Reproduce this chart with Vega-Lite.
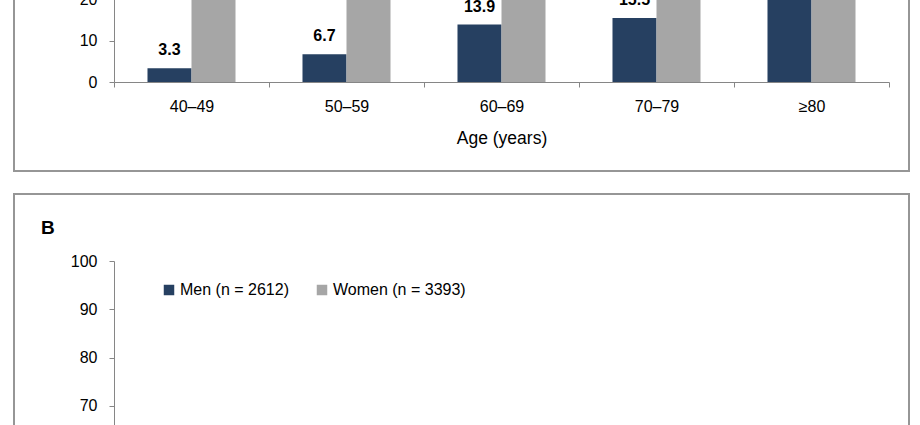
{
  "$schema": "https://vega.github.io/schema/vega-lite/v6.json",
  "background": "white",
  "padding": {"left": 13, "top": -400, "right": 0, "bottom": -410},
  "spacing": 21,
  "config": {
    "font": "Liberation Sans",
    "view": {"stroke": "#969696", "strokeWidth": 2, "fill": "white"},
    "axis": {
      "domainColor": "#868686",
      "tickColor": "#868686",
      "tickSize": 5,
      "labelFontSize": 16,
      "labelColor": "#000000",
      "titleFontSize": 17.5,
      "titleFontWeight": "normal",
      "titleColor": "#000000",
      "grid": false
    },
    "legend": {
      "orient": "none",
      "legendX": 147,
      "legendY": 88,
      "direction": "horizontal",
      "symbolType": "square",
      "symbolSize": 110,
      "symbolStrokeWidth": 0,
      "labelFontSize": 16,
      "labelColor": "#000000",
      "labelOffset": 3,
      "columnPadding": 25,
      "title": null
    }
  },
  "resolve": {"legend": {"color": "independent"}},
  "datasets": {
    "a": [
      {"age": "40–49", "sex": "Men (n = 2612)", "value": 3.3},
      {"age": "40–49", "sex": "Women (n = 3393)", "value": 22.5},
      {"age": "50–59", "sex": "Men (n = 2612)", "value": 6.7},
      {"age": "50–59", "sex": "Women (n = 3393)", "value": 30.3},
      {"age": "60–69", "sex": "Men (n = 2612)", "value": 13.9},
      {"age": "60–69", "sex": "Women (n = 3393)", "value": 41.0},
      {"age": "70–79", "sex": "Men (n = 2612)", "value": 15.5},
      {"age": "70–79", "sex": "Women (n = 3393)", "value": 52.4},
      {"age": "≥80", "sex": "Men (n = 2612)", "value": 24.9},
      {"age": "≥80", "sex": "Women (n = 3393)", "value": 62.1}
    ],
    "b": [
      {"age": "40–49", "sex": "Men (n = 2612)", "value": 8.1},
      {"age": "40–49", "sex": "Women (n = 3393)", "value": 15.4},
      {"age": "50–59", "sex": "Men (n = 2612)", "value": 12.5},
      {"age": "50–59", "sex": "Women (n = 3393)", "value": 27.8},
      {"age": "60–69", "sex": "Men (n = 2612)", "value": 20.3},
      {"age": "60–69", "sex": "Women (n = 3393)", "value": 39.6},
      {"age": "70–79", "sex": "Men (n = 2612)", "value": 28.7},
      {"age": "70–79", "sex": "Women (n = 3393)", "value": 48.1},
      {"age": "≥80", "sex": "Men (n = 2612)", "value": 35.2},
      {"age": "≥80", "sex": "Women (n = 3393)", "value": 55.3}
    ]
  },
  "vconcat": [
    {
      "width": 895,
      "height": 570,
      "title": {"text": "A", "anchor": "start", "frame": "group", "fontSize": 19, "fontWeight": "bold", "color": "#000000", "baseline": "alphabetic", "offset": 0, "dx": 27, "dy": 59},
      "data": {"name": "a"},
      "encoding": {
        "x": {
          "field": "age", "type": "nominal", "sort": ["40–49", "50–59", "60–69", "70–79", "≥80"],
          "scale": {"range": [100, 875], "paddingInner": 0, "paddingOuter": 0},
          "axis": {"title": "Age (years)", "offset": -89, "tickBand": "extent", "labelAngle": 0, "labelPadding": 11, "titlePadding": 15}
        },
        "xOffset": {"field": "sex", "type": "nominal", "sort": ["Men (n = 2612)", "Women (n = 3393)"], "scale": {"paddingInner": 0, "paddingOuter": 0.761}},
        "y": {
          "field": "value", "type": "quantitative",
          "scale": {"domain": [0, 100], "range": [481, 68], "nice": false, "zero": true},
          "axis": {"title": null, "offset": -100, "values": [0, 10, 20, 30, 40, 50, 60, 70, 80, 90, 100], "labelPadding": 12}
        },
        "color": {"field": "sex", "type": "nominal", "sort": ["Men (n = 2612)", "Women (n = 3393)"], "scale": {"range": ["#264061", "#A6A6A6"]}}
      },
      "layer": [
        {"mark": {"type": "bar", "clip": true}},
        {"mark": {"type": "text", "clip": true, "fontWeight": "bold", "fontSize": 16, "color": "#000000", "baseline": "alphabetic", "dy": -13}, "encoding": {"text": {"field": "value", "type": "quantitative", "format": ".1f"}, "color": {"value": "#000000"}}}
      ]
    },
    {
      "width": 895,
      "height": 640,
      "title": {"text": "B", "anchor": "start", "frame": "group", "fontSize": 19, "fontWeight": "bold", "color": "#000000", "baseline": "alphabetic", "offset": 0, "dx": 27, "dy": 59},
      "data": {"name": "b"},
      "encoding": {
        "x": {
          "field": "age", "type": "nominal", "sort": ["40–49", "50–59", "60–69", "70–79", "≥80"],
          "scale": {"range": [100, 875], "paddingInner": 0, "paddingOuter": 0},
          "axis": {"title": "Age (years)", "offset": -89, "tickBand": "extent", "labelAngle": 0, "labelPadding": 11, "titlePadding": 15}
        },
        "xOffset": {"field": "sex", "type": "nominal", "sort": ["Men (n = 2612)", "Women (n = 3393)"], "scale": {"paddingInner": 0, "paddingOuter": 0.761}},
        "y": {
          "field": "value", "type": "quantitative",
          "scale": {"domain": [0, 100], "range": [550, 67], "nice": false, "zero": true},
          "axis": {"title": null, "offset": -100, "values": [0, 10, 20, 30, 40, 50, 60, 70, 80, 90, 100], "labelPadding": 12}
        },
        "color": {"field": "sex", "type": "nominal", "sort": ["Men (n = 2612)", "Women (n = 3393)"], "scale": {"range": ["#264061", "#A6A6A6"]}}
      },
      "layer": [
        {"mark": {"type": "bar", "clip": true}},
        {"mark": {"type": "text", "clip": true, "fontWeight": "bold", "fontSize": 16, "color": "#000000", "baseline": "alphabetic", "dy": -13}, "encoding": {"text": {"field": "value", "type": "quantitative", "format": ".1f"}, "color": {"value": "#000000"}}}
      ]
    }
  ]
}
